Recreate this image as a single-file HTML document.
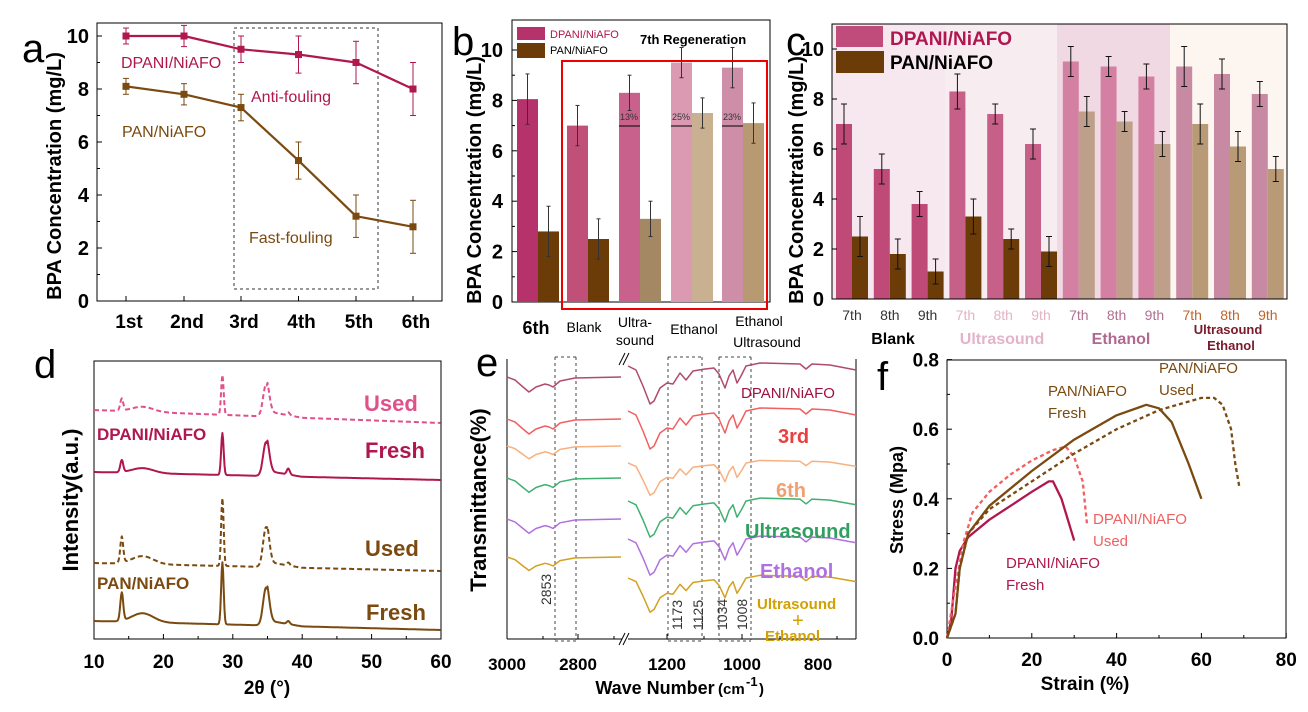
<!DOCTYPE html>
<html><head><meta charset="utf-8"><style>
html,body{margin:0;padding:0;background:#fff;}
svg{display:block;font-family:"Liberation Sans",Arial,sans-serif;}
</style></head><body>
<svg id="s" width="1308" height="712" viewBox="0 0 1308 712" xmlns="http://www.w3.org/2000/svg"></svg>
<script>
var o=[];
function T(x,y,t,sz,col,w,anc,extra){o.push('<text x="'+x+'" y="'+y+'" font-size="'+sz+'" fill="'+(col||'#000')+'" font-weight="'+(w||'normal')+'" text-anchor="'+(anc||'start')+'" '+(extra||'')+'>'+t+'</text>');}
function L(x1,y1,x2,y2,c,w,d){o.push('<line x1="'+x1+'" y1="'+y1+'" x2="'+x2+'" y2="'+y2+'" stroke="'+(c||'#000')+'" stroke-width="'+(w||1)+'"'+(d?' stroke-dasharray="'+d+'"':'')+'/>');}
function R(x,y,w,h,f,s,sw,d){o.push('<rect x="'+x+'" y="'+y+'" width="'+w+'" height="'+h+'" fill="'+(f||'none')+'"'+(s?' stroke="'+s+'" stroke-width="'+(sw||1)+'"':'')+(d?' stroke-dasharray="'+d+'"':'')+'/>');}
function P(pts,c,w,d){o.push('<polyline points="'+pts.map(function(p){return p[0].toFixed(1)+','+p[1].toFixed(1)}).join(' ')+'" fill="none" stroke="'+c+'" stroke-width="'+w+'" stroke-linejoin="round"'+(d?' stroke-dasharray="'+d+'"':'')+'/>');}
function EB(x,y1,y2,c,w){L(x,y1,x,y2,c,1);L(x-(w||3),y1,x+(w||3),y1,c,1);L(x-(w||3),y2,x+(w||3),y2,c,1);}
function YT(x,y,t,sz){T(x,y,t,sz||20,'#000','bold','middle','transform="rotate(-90 '+x+' '+y+')"');}

// ---------- Panel a
T(22,62,'a',40,'#000','normal');
R(97,23,345,278,'none','#000',1);
var xa=[126,184,241,298.5,356,413],lab=['1st','2nd','3rd','4th','5th','6th'];
function ya(v){return 301-v*26.5;}
for(var i=0;i<=10;i+=2){L(97,ya(i),102,ya(i));T(89,ya(i)+7,i,20,'#000','bold','end');}
for(i=1;i<10;i+=2)L(97,ya(i),100,ya(i));
for(i=0;i<6;i++){L(xa[i],301,xa[i],296);T(xa[i]+3,328,lab[i],19,'#000','bold','middle');}
YT(61,176,'BPA Concentration (mg/L)');
R(234,28,144,261,'none','#333',1,'3,3');
var dA=[10,10,9.5,9.3,9.0,8.0],pA=[8.1,7.8,7.3,5.3,3.2,2.8],eA=[.3,.4,.5,.7,.8,1];
var c1='#b0174f',c2='#7a4a10';
P(xa.map(function(x,i){return [x,ya(dA[i])]}),c1,2.2);
P(xa.map(function(x,i){return [x,ya(pA[i])]}),c2,2.2);
for(i=0;i<6;i++){EB(xa[i],ya(dA[i]+eA[i]),ya(dA[i]-eA[i]),c1);R(xa[i]-3.5,ya(dA[i])-3.5,7,7,c1);
EB(xa[i],ya(pA[i]+eA[i]),ya(pA[i]-eA[i]),c2);R(xa[i]-3.5,ya(pA[i])-3.5,7,7,c2);}
T(121,68,'DPANI/NiAFO',16,c1);T(251,102,'Anti-fouling',16,c1);T(122,137,'PAN/NiAFO',16,c2);T(249,243,'Fast-fouling',16,c2);

// ---------- Panel b
T(452,55,'b',40,'#000','normal');
R(512,20,258,282,'none','#000',1);
function yb(v){return 302-v*25.2;}
for(i=0;i<=10;i+=2){L(512,yb(i),517,yb(i));T(503,yb(i)+7,i,20,'#000','bold','end');}
for(i=1;i<10;i+=2)L(512,yb(i),515,yb(i));
YT(481,180,'BPA Concentration (mg/L)');
var bx=[517,567,619,671,722],bd=[8.05,7.0,8.3,9.5,9.3],bp=[2.8,2.5,3.3,7.5,7.1],be=[1,.8,.7,.6,.8],bpe=[1,.8,.7,.6,.8];
var bcd=['#b5336a','#c05078','#c8628c','#dc9ab2','#cf8ea8'],bcp=['#6b3c08','#6b3c08','#a48763','#c8b090','#b89a72'];
for(i=0;i<5;i++){R(bx[i],yb(bd[i]),21,yb(0)-yb(bd[i]),bcd[i]);R(bx[i]+21,yb(bp[i]),21,yb(0)-yb(bp[i]),bcp[i]);
EB(bx[i]+10.5,yb(bd[i]+be[i]),yb(bd[i]-be[i]),'#333',2);EB(bx[i]+31.5,yb(bp[i]+bpe[i]),yb(bp[i]-bpe[i]),'#333',2);}
[[619,'13%'],[671,'25%'],[722,'23%']].forEach(function(a){L(a[0],126,a[0]+21,126,'#000',1);T(a[0]+10,120,a[1],9,'#333','normal','middle');});
R(562,61,205,248,'none','#e00',2);
R(517,27,28,13,'#b5336a');R(517,43,28,15,'#6b3c08');
T(550,38,'DPANI/NiAFO',11,c1);T(550,54,'PAN/NiAFO',11,'#000');T(640,44,'7th Regeneration',13,'#000','bold');
T(536,334,'6th',18,'#000','bold','middle');T(584,332,'Blank',14,'#000','normal','middle');
T(635,327,'Ultra-',14,'#000','normal','middle');T(635,345,'sound',14,'#000','normal','middle');
T(694,334,'Ethanol',14,'#000','normal','middle');T(759,326,'Ethanol',14,'#000','normal','middle');T(767,347,'Ultrasound',14,'#000','normal','middle');

// ---------- Panel c
T(786,55,'c',40,'#000','normal');
R(832,24,113,275,'#f6e8ee');R(945,24,112,275,'#f7edf1');R(1057,24,113,275,'#f1d9e4');R(1170,24,117,275,'#fdf6f0');
function yc(v){return 299-v*25;}
var cd=[7,5.2,3.8,8.3,7.4,6.2,9.5,9.3,8.9,9.3,9.0,8.2],cp=[2.5,1.8,1.1,3.3,2.4,1.9,7.5,7.1,6.2,7.0,6.1,5.2],ce=[.8,.6,.5,.7,.4,.6,.6,.4,.5,.8,.6,.5];
var ccd=['#bf4a78','#c66088','#d480a2','#c78aa2'],ccp=['#6b3c08','#6b3c08','#bea08a','#b89a76'];
var tcol=['#333','#e3b3c6','#b07090','#c0642a'];
for(i=0;i<12;i++){var x=836+i*37.8,g=Math.floor(i/3);
R(x,yc(cd[i]),16,yc(0)-yc(cd[i]),ccd[g]);R(x+16,yc(cp[i]),16,yc(0)-yc(cp[i]),ccp[g]);
EB(x+8,yc(cd[i]+ce[i]),yc(cd[i]-ce[i]),'#111',3);EB(x+24,yc(cp[i]+ce[i]),yc(cp[i]-ce[i]),'#111',3);
T(x+16,320,['7th','8th','9th'][i%3],14,tcol[g],'normal','middle');}
R(832,24,455,275,'none','#000',1);
for(i=0;i<=10;i+=2){L(832,yc(i),837,yc(i));T(824,yc(i)+7,i,20,'#000','bold','end');}
YT(803,180,'BPA Concentration (mg/L)');
R(836,26,47,21,'#c04c7c');R(836,51,48,22,'#6b3c08');
T(890,45,'DPANI/NiAFO',19,c1,'bold');T(890,69,'PAN/NiAFO',19,'#000','bold');
T(893,344,'Blank',16,'#000','bold','middle');T(1002,344,'Ultrasound',16,'#e3b3c8','bold','middle');
T(1121,344,'Ethanol',16,'#b06890','bold','middle');T(1228,334,'Ultrasound',13,'#7a1a2a','bold','middle');T(1231,350,'Ethanol',13,'#7a1a2a','bold','middle');

// ---------- Panel d
T(34,378,'d',40,'#000','normal');
R(94,361,347,278,'none','#000',1);
function xd(v){return 94+(v-10)*6.94;}
for(i=10;i<=60;i+=10){L(xd(i),639,xd(i),634);T(xd(i),668,i,19,'#000','bold','middle');}
for(i=15;i<60;i+=10)L(xd(i),639,xd(i),636);
T(267,694,'2θ (°)',19,'#000','bold','middle');
o.push('<text x="78" y="500" font-size="22" font-weight="bold" text-anchor="middle" transform="rotate(-90 78 500)" fill="#000">Intensity(a.u.)</text>');
function xrd(base,drop,pk,col,dash,w){var pts=[];for(var t=10;t<=60;t+=0.1){var b=base+drop*(t-10)/50;
var y=b-pk[3]*Math.exp(-Math.pow((t-17)/2.2,2))-pk[0]*Math.exp(-Math.pow((t-14)/0.3,2))-pk[1]*Math.exp(-Math.pow((t-28.5)/0.25,2))-pk[2]*Math.exp(-Math.pow((t-34.8)/0.6,2))-pk[4]*Math.exp(-Math.pow((t-38)/0.3,2))-(t>35&&t<40?5*(40-t)/5:0);
pts.push([xd(t),y]);}P(pts,col,w,dash);}
xrd(410,13,[12,40,32,5,3],'#e0508a','5,3',2);
xrd(472,8,[12,42,34,5,6],c1,null,2);
xrd(563,8,[26,68,40,8,3],c2,'5,3',2);
xrd(621,9,[28,62,38,9,3],c2,null,2);
T(364,411,'Used',22,'#e0508a','bold');T(97,440,'DPANI/NiAFO',17,c1,'bold');T(365,458,'Fresh',22,c1,'bold');
T(365,556,'Used',22,c2,'bold');T(97,589,'PAN/NiAFO',17,c2,'bold');T(366,620,'Fresh',22,c2,'bold');

// ---------- Panel e
T(476,376,'e',40,'#000','normal');
L(507,359,507,639);L(507,639,622,639);L(628,639,856,639);L(856,359,856,639);
L(619,645,625,633,'#000',1);L(623,645,629,633,'#000',1);L(619,365,625,353,'#000',1);L(623,365,629,353,'#000',1);
[[507,'3000'],[578,'2800'],[667,'1200'],[742,'1000'],[818,'800']].forEach(function(a){L(a[0],639,a[0],634);T(a[0],670,a[1],17,'#000','bold','middle');});
[543,614,704,780,837].forEach(function(x){L(x,639,x,636);});
T(655,694,'Wave Number',18,'#000','bold','middle');T(718,694,'(cm',15,'#000','bold','start');T(746,686,'-1',13,'#000','bold');T(759,694,')',15,'#000','bold');
YT(486,500,'Transmittance(%)',22);
[555,576,668,702,719,751].forEach(function(x){L(x,357,x,640,'#444',1,'3,3');});
L(555,357,576,357,'#444',1,'3,3');L(668,357,702,357,'#444',1,'3,3');L(719,357,751,357,'#444',1,'3,3');
L(555,641,576,641,'#444',1,'3,3');L(668,641,702,641,'#444',1,'3,3');L(719,641,751,641,'#444',1,'3,3');
[[551,605,'2853'],[682,630,'1173'],[703,630,'1125'],[727,630,'1034'],[747,630,'1008']].forEach(function(a){o.push('<text x="'+a[0]+'" y="'+a[1]+'" font-size="14" fill="#333" transform="rotate(-90 '+a[0]+' '+a[1]+')">'+a[2]+'</text>');});
var lt=[[507,0],[515,3],[523,10],[529,15],[536,10],[545,7],[549,8],[553,10],[560,4],[575,1],[621,0]];
var rt=[[628,0],[636,4],[643,20],[650,38],[654,35],[660,22],[667,17],[673,18],[680,7],[686,14],[693,5],[705,3],[714,2],[719,8],[725,22],[729,10],[733,4],[737,17],[741,10],[746,0],[760,-3],[800,-2],[806,3],[812,-2],[830,-1],[856,4]];
var sp=[[377,366,'#b04a70',1],[419,411,'#f06060',1],[446,463,'#f8b080',.85],[478,501,'#40b070',.95],[519,539,'#b070e0',.95],[557,578,'#d4a020',.9]];
sp.forEach(function(s){P(lt.map(function(p){return [p[0],s[0]+p[1]*s[3]]}),s[2],1.5);P(rt.map(function(p){return [p[0],s[1]+p[1]*s[3]]}),s[2],1.5);});
T(741,398,'DPANI/NiAFO',15,'#a01040');T(778,443,'3rd',20,'#e84040','bold');T(776,497,'6th',20,'#f0a070','bold');
T(745,538,'Ultrasound',20,'#30a060','bold');T(760,578,'Ethanol',20,'#b070e0','bold');
T(757,609,'Ultrasound',15,'#d4a000','bold');T(798,627,'+',20,'#d4a000','normal','middle');T(765,641,'Ethanol',15,'#d4a000','bold');

// ---------- Panel f
T(877,390,'f',40,'#000','normal');
R(947,360,339,278,'none','#000',1);
function xf(v){return 947+v*4.24;}function yf(v){return 638-v*348;}
for(i=0;i<=80;i+=20){L(xf(i),638,xf(i),633);T(xf(i),666,i,19,'#000','bold','middle');}
for(i=10;i<80;i+=20)L(xf(i),638,xf(i),635);
[0,.2,.4,.6,.8].forEach(function(v){L(947,yf(v),952,yf(v));T(939,yf(v)+7,v.toFixed(1),19,'#000','bold','end');});
[.1,.3,.5,.7].forEach(function(v){L(947,yf(v),950,yf(v));});
T(1085,690,'Strain (%)',19,'#000','bold','middle');YT(903,500,'Stress (Mpa)',18);
function cf(a,c,d){P(a.map(function(p){return [xf(p[0]),yf(p[1])]}),c,2.3,d);}
cf([[0,0],[1,.05],[2,.2],[3,.25],[5,.29],[10,.34],[15,.38],[20,.42],[24,.45],[25,.45],[27,.4],[30,.28]],c1);
cf([[0,0],[2,.15],[4,.28],[6,.36],[10,.42],[15,.47],[20,.51],[25,.54],[28,.55],[30,.52],[32,.45],[33,.33]],'#f06060','4,3');
cf([[0,0],[2,.07],[3,.2],[5,.3],[10,.38],[20,.48],[30,.57],[40,.64],[47,.67],[50,.66],[53,.62],[57,.5],[60,.4]],c2);
cf([[0,0],[2,.07],[3,.2],[5,.3],[10,.37],[20,.45],[30,.53],[40,.6],[50,.655],[60,.69],[63,.69],[65,.67],[67,.6],[68,.5],[69,.43]],c2,'4,3');
T(1159,373,'PAN/NiAFO',15,c2);T(1159,395,'Used',15,c2);T(1048,396,'PAN/NiAFO',15,c2);T(1048,418,'Fresh',15,c2);
T(1093,524,'DPANI/NiAFO',15,'#f06060');T(1093,546,'Used',15,'#f06060');T(1006,568,'DPANI/NiAFO',15,c1);T(1006,590,'Fresh',15,c1);

document.getElementById('s').innerHTML=o.join('');
</script>
</body></html>
